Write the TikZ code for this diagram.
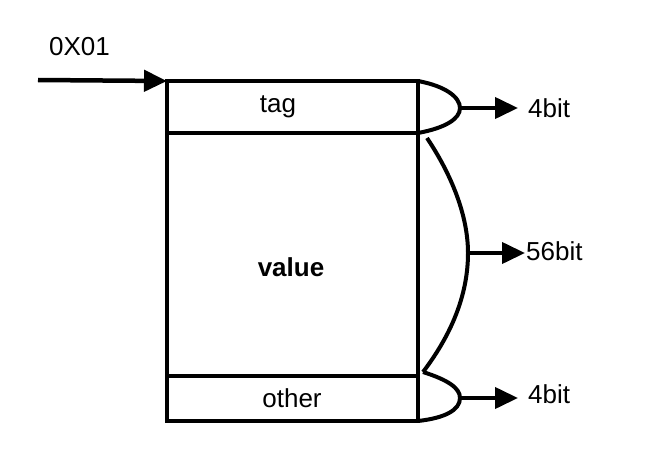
\documentclass[tikz,border=0pt]{standalone}
\usepackage{fontspec}
\setmainfont{Liberation Sans}
\usetikzlibrary{arrows.meta}
\begin{document}
\begin{tikzpicture}[x=1pt,y=-1pt,
  cell/.style={draw, line width=4.5pt, rectangle, inner sep=0pt, outer sep=0pt, minimum width=251pt},
  txt/.style={font=\fontsize{26}{30}\selectfont, inner sep=0pt, anchor=base},
  conn/.style={line width=4pt},
  arr/.style={line width=4pt, -{Triangle[length=23pt,width=21pt]}}]
\useasboundingbox (0,0) rectangle (656,476);
% boxes
\node[cell, minimum height=52pt] (tag) at (292.5,107) {};
\node[cell, minimum height=243pt] (value) at (292.5,254.5) {};
\node[cell, minimum height=45pt] (other) at (292.5,398.5) {};
% texts
\node[txt] (tagtext) at (278,113) {tag};
\node[txt, font=\fontsize{26}{30}\selectfont\bfseries] (valtext) at (291,276) {value};
\node[txt] (othertext) at (292,407) {other};
\node[txt, anchor=base west] (addr) at (49,56) {0X01};
\node[txt, anchor=base west] (l1) at (528,118) {4bit};
\node[txt, anchor=base west] (l2) at (526,260) {56bit};
\node[txt, anchor=base west] (l3) at (528,403) {4bit};
% incoming arrow
\coordinate (start) at (38,80);
\draw[arr, line width=4.5pt] (start) -- (tag.north west);
% braces
\coordinate (b1) at (460,108);
\coordinate (b2) at (468,253);
\coordinate (b3) at (460,398);
\coordinate (m1) at (427,138);
\coordinate (m2) at (423,372);
\draw[conn] (tag.north east) .. controls (445,86) and (460,97) .. (b1)
  .. controls (460,119) and (445,128) .. (tag.south east);
\draw[conn] (m1) .. controls (455,180) and (468,220) .. (b2)
  .. controls (468,290) and (455,330) .. (m2);
\draw[conn] (m2) .. controls (448,380) and (460,388) .. (b3)
  .. controls (460,410) and (445,418) .. (other.south east);
% output arrows
\draw[arr, shorten >=10pt] (b1) -- (b1 -| l1.west);
\draw[arr, shorten >=1pt] (b2) -- (b2 -| l2.west);
\draw[arr, shorten >=10pt] (b3) -- (b3 -| l3.west);
\end{tikzpicture}
\end{document}
